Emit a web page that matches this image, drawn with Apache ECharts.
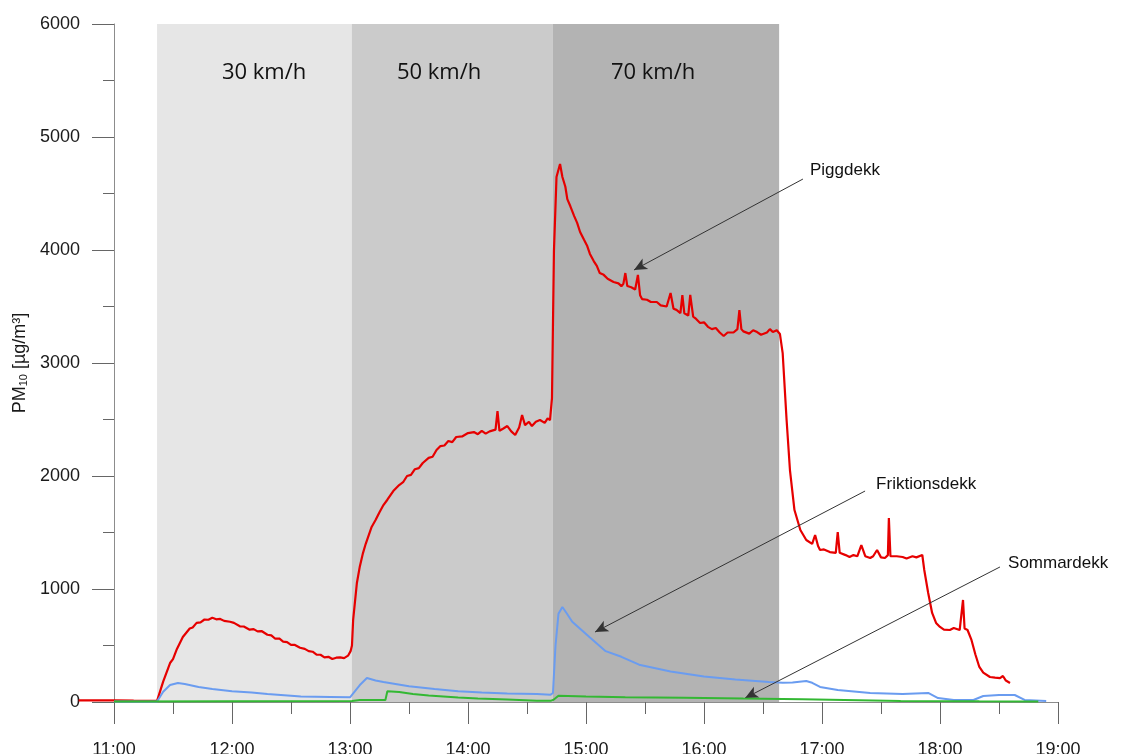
<!DOCTYPE html>
<html>
<head>
<meta charset="utf-8">
<script src="https://cdn.jsdelivr.net/npm/echarts@6/dist/echarts.min.js"></script>
<style>
html,body{margin:0;padding:0;background:#fff}
#chart{width:1121px;height:754px}
</style>
</head>
<body>
<div id="chart"></div>
<script>
// time = minutes after 11:00, value = PM10 [µg/m3]
var piggdekk = [
    [-18, 15], [0, 15], [10, 12], [21.9, 10], [25, 180], [28.5, 345], [30, 380], [32, 470], [35, 575],
    [38.5, 650], [40, 660], [42, 700], [44, 705], [46, 730], [48, 728], [50, 745], [52, 732], [54, 735],
    [56, 718], [59, 710], [61, 700], [64, 670], [66, 668], [69, 640], [71, 645], [73, 625], [75, 628],
    [78, 595], [80, 590], [82, 560], [84, 562], [86, 535], [88, 530], [90, 505], [92, 505], [94.6, 480],
    [97, 470], [99, 450], [101, 445], [103, 420], [105, 418], [107, 395], [109, 400], [111, 380],
    [113, 392], [115, 395], [117, 388], [119, 410], [120.3, 450], [121, 500], [121.6, 726],
    [123.5, 1053], [125, 1200], [126.6, 1318], [128, 1400], [131, 1549], [133, 1610], [135, 1680],
    [137, 1743], [139, 1790], [142, 1867], [145, 1920], [147, 1945], [149, 2000], [151, 2010],
    [153, 2060], [155, 2070], [157, 2115], [160, 2160], [162, 2170], [164, 2230], [166, 2265],
    [168, 2270], [170, 2310], [172, 2300], [174, 2345], [177, 2350], [180, 2380], [183, 2389],
    [185, 2370], [187, 2400], [189, 2375], [191, 2395], [194, 2410], [195, 2575], [196, 2400],
    [198, 2420], [200, 2442], [202, 2395], [204, 2363], [206, 2430], [207.5, 2540], [209, 2450],
    [211, 2480], [212.5, 2442], [214.5, 2480], [216.6, 2495], [219, 2470], [220.5, 2510], [221.7, 2495],
    [222.7, 2690], [223.7, 3991], [225, 4646], [226.8, 4761], [228, 4646], [229.5, 4560], [230.5, 4450],
    [232, 4389], [234, 4300], [235.5, 4240], [237, 4159], [239, 4090], [240.5, 4040], [242, 3965],
    [244, 3900], [245.5, 3860], [247, 3796], [249, 3780], [251, 3745], [254, 3717], [256.5, 3705],
    [258, 3680], [259, 3700], [260, 3796], [261, 3681], [263, 3670], [265, 3650], [266.4, 3779],
    [267.5, 3600], [268.5, 3566], [271, 3560], [273, 3540], [276, 3540], [278, 3510], [281, 3500],
    [283, 3620], [284.5, 3480], [286, 3470], [288, 3442], [289, 3600], [290, 3440], [292, 3420],
    [293, 3602], [294.5, 3410], [296, 3390], [298, 3354], [300, 3360], [302, 3320], [304, 3300],
    [306, 3310], [308, 3270], [310, 3239], [312, 3270], [315, 3270], [317, 3300], [318, 3469],
    [319, 3300], [320, 3280], [323, 3260], [325, 3290], [327, 3274], [329, 3250], [332, 3270],
    [333.5, 3300], [335, 3274], [337, 3290], [338.6, 3257], [340, 3088], [342, 2496], [343.7, 2053],
    [346, 1699], [349, 1522], [352, 1434], [355, 1400], [356.5, 1478], [358, 1380], [359, 1345],
    [361, 1350], [364, 1327], [367, 1320], [368, 1504], [369, 1320], [370, 1318], [372, 1300],
    [374, 1283], [376, 1300], [378, 1290], [380, 1389], [382, 1290], [384.5, 1274], [386, 1290],
    [388, 1345], [390, 1280], [392, 1274], [393.5, 1300], [394, 1628], [394.8, 1290], [395.6, 1274],
    [398, 1290], [401, 1283], [403, 1270], [406, 1290], [408, 1280], [411, 1301], [412, 1168],
    [414, 965], [416, 788], [418, 700], [420, 664], [422, 640], [425, 637], [427, 655], [430, 637],
    [431, 650], [431.7, 903], [432.5, 650], [434, 637], [436, 549], [438, 420], [440, 310], [442, 260],
    [445.4, 221], [448, 215], [450.5, 212], [452, 230], [453.5, 190], [455.6, 168]
];
var friktionsdekk = [
    [0, 5], [21.9, 5], [25, 90], [28.5, 150], [32.5, 168], [36, 160], [43, 133], [50, 115], [60, 95],
    [70, 85], [78, 70], [90, 55], [95, 48], [110, 45], [120, 42], [121, 45], [125, 150], [128.6, 212],
    [133, 190], [137, 177], [150, 140], [163, 115], [175, 95], [187, 85], [200, 75], [215, 70],
    [222, 65], [223.2, 80], [224.5, 500], [226, 780], [228, 841], [230, 790], [233, 710], [242, 570],
    [250, 450], [258, 400], [267, 330], [283, 270], [300, 225], [316, 200], [333, 177], [340, 170],
    [345, 172], [352, 186], [355, 170], [359, 133], [368, 106], [384.5, 80], [401, 71], [414, 80],
    [419, 35], [427, 18], [437, 18], [442, 53], [450, 62], [458, 62], [463, 18], [474, 8]
];
var sommardekk = [
    [0, 5], [121, 8], [125, 18], [138, 18], [139, 95], [145, 88], [152, 70], [160, 58], [175, 40],
    [185, 30], [200, 22], [215, 12], [222, 10], [223.5, 20], [226, 55], [240, 48], [260, 42],
    [290, 38], [320, 30], [340, 27], [350, 25], [351, 8], [400, 8], [440, 6], [470, 5]
];

var bandNames = ['30 km/h', '50 km/h', '70 km/h'];
var bandEdges = [21.9, 121, 223.2, 338.2];
var bandColors = ['#e6e6e6', '#cbcbcb', '#b3b3b3'];
var bandLabelAt = [[76.3, 5566], [165.3, 5566], [274.1, 5566]];

var annotations = [
    {text: 'Piggdekk', at: [353.9, 4708], from: [350.3, 4628], to: [264.4, 3823]},
    {text: 'Friktionsdekk', at: [387.5, 1929], from: [381.9, 1867], to: [244.6, 619]},
    {text: 'Sommardekk', at: [454.6, 1230], from: [450.5, 1195], to: [320.9, 35]}
];

var W = 1121, H = 754;
var LEFT = 114, RIGHT = 63, TOP = 24, BOTTOM = 52;
var X_MIN = -20, X_MAX = 480;
var pxPerMin = (W - RIGHT - LEFT) / X_MAX;

var chart = echarts.init(document.getElementById('chart'));

function hourLabel(v){
    return (11 + v / 60) + ':00';
}

var areas = [];
for (var i = 0; i < bandNames.length; i++) {
    areas.push([{xAxis: bandEdges[i], yAxis: 6000, itemStyle: {color: bandColors[i]}}, {xAxis: bandEdges[i + 1], yAxis: 0}]);
}
var bandPoints = bandNames.map(function(n, i){
    return {name: n, coord: bandLabelAt[i]};
});
var notePoints = annotations.map(function(a){
    return {name: a.text, coord: a.at};
});
var noteLines = annotations.map(function(a){
    return [{coord: a.from}, {coord: a.to}];
});

var txt = '#1a1a1a';
var axisGrey = '#8c8c8c';

var option = {
    animation: false,
    backgroundColor: '#fff',
    grid: [
        {left: LEFT, right: RIGHT, top: TOP, bottom: BOTTOM, containLabel: false, outerBoundsMode: 'none'},
        {left: LEFT + X_MIN * pxPerMin, right: RIGHT, top: TOP, bottom: BOTTOM, containLabel: false, outerBoundsMode: 'none'}
    ],
    xAxis: [{
        type: 'value', gridIndex: 0, min: 0, max: X_MAX, interval: 60,
        axisLine: {show: true, onZero: false, lineStyle: {color: axisGrey, width: 1}},
        axisTick: {show: true, length: 22, lineStyle: {color: '#666'}},
        minorTick: {show: true, splitNumber: 2, length: 12, lineStyle: {color: '#666'}},
        splitLine: {show: false},
        axisLabel: {margin: 39, verticalAlign: 'top', color: txt, fontSize: 18, fontFamily: 'Liberation Sans', formatter: hourLabel}
    }, {
        type: 'value', gridIndex: 1, min: X_MIN, max: X_MAX, show: false
    }],
    yAxis: [{
        type: 'value', gridIndex: 0, min: 0, max: 6000, interval: 1000,
        axisLine: {show: true, lineStyle: {color: axisGrey, width: 1}},
        axisTick: {show: true, length: 22, lineStyle: {color: '#666'}},
        minorTick: {show: true, splitNumber: 2, length: 11, lineStyle: {color: '#666'}},
        splitLine: {show: false},
        axisLabel: {margin: 34, color: txt, fontSize: 18, fontFamily: 'Liberation Sans', formatter: function(v){ return String(v); }},
        name: 'PM{sub|10} [µg/m³]',
        nameLocation: 'middle',
        nameGap: 80,
        nameTextStyle: {
            color: txt, fontSize: 18, fontFamily: 'Liberation Sans',
            rich: {sub: {fontSize: 11, padding: [8, 0, 0, 0], color: txt, fontFamily: 'Liberation Sans'}}
        }
    }, {
        type: 'value', gridIndex: 1, min: 0, max: 6000, show: false
    }],
    series: [{
        name: 'Piggdekk', type: 'line', xAxisIndex: 1, yAxisIndex: 1,
        data: piggdekk, showSymbol: false, z: 3,
        lineStyle: {color: '#e60000', width: 2.2},
        markArea: {silent: true, z: 1, data: areas},
        markPoint: {
            silent: true, symbol: 'circle', symbolSize: 0,
            data: bandPoints,
            label: {show: true, position: 'inside', formatter: '{b}', color: '#111', fontSize: 22, fontFamily: 'Open Sans'}
        }
    }, {
        name: 'Friktionsdekk', type: 'line', xAxisIndex: 1, yAxisIndex: 1,
        data: friktionsdekk, showSymbol: false, z: 4,
        lineStyle: {color: '#6a9cf0', width: 2}
    }, {
        name: 'Sommardekk', type: 'line', xAxisIndex: 1, yAxisIndex: 1,
        data: sommardekk, showSymbol: false, z: 5,
        lineStyle: {color: '#33b833', width: 2},
        markLine: {
            silent: true, symbol: ['none', 'arrow'], symbolSize: [9, 13],
            label: {show: false},
            lineStyle: {color: '#333', width: 1, type: 'solid'},
            data: noteLines
        },
        markPoint: {
            silent: true, symbol: 'circle', symbolSize: 0,
            data: notePoints,
            label: {show: true, position: 'right', distance: 0, formatter: '{b}', color: '#111', fontSize: 17, fontFamily: 'Liberation Sans'}
        }
    }]
};

chart.setOption(option);
</script>
</body>
</html>
